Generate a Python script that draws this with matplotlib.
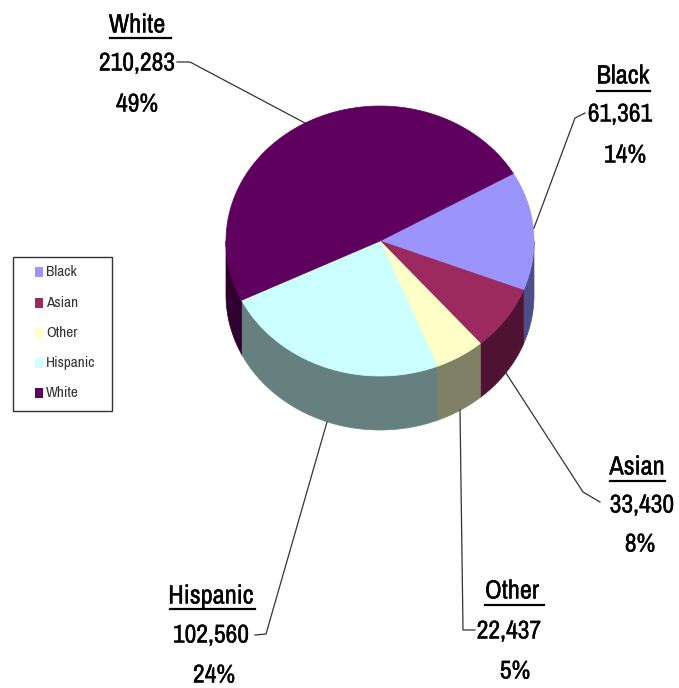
import numpy as np
import matplotlib
matplotlib.use('Agg')
import matplotlib.pyplot as plt
import matplotlib.patheffects as pe
from matplotlib.patches import Polygon, Rectangle

plt.rcParams['font.family'] = ['Archivo Narrow', 'Roboto Condensed', 'Liberation Sans', 'DejaVu Sans']

groups = ['Black', 'Asian', 'Other', 'Hispanic', 'White']
counts = [61361, 33430, 22437, 102560, 210283]
top_colors = ['#9a94fb', '#9c2a5e', '#ffffc8', '#ccffff', '#5f005f']
side_colors = ['#4d4d88', '#4f1233', '#808066', '#668080', '#300030']

# label anchors: heading, count, percent (x, y)
label_pos = {
    'Black': ((623, 76), (620, 114), (625, 155)),
    'Asian': ((637, 467), (642, 505), (640, 544)),
    'Other': ((512, 591), (509, 631), (515, 671)),
    'Hispanic': ((211, 596), (211, 635), (214, 675)),
    'White': ((137, 25), (137, 63), (137, 104)),
}
underlines = {
    'Black': (597, 650, 91),
    'Asian': (610, 665, 481),
    'Other': (485, 544, 605),
    'Hispanic': (170, 255, 609),
    'White': (110, 171, 38),
}
leaders = {
    'Black': ([534, 575, 585], [228, 118, 113]),
    'Asian': ([506, 583, 600], [373, 492, 502]),
    'Other': ([460, 463, 475], [410, 630, 630]),
    'Hispanic': ([327, 266, 255], [422, 634, 635]),
    'White': ([177, 190, 305], [62, 62, 123]),
}

cx, cy = 380, 241
rx, ry = 154, 135
depth = 54
start_angle = 30


def rim(a0, a1, n=80):
    a = np.radians(np.linspace(a0, a1, n))
    return cx + rx * np.cos(a), cy - ry * np.sin(a)


fig = plt.figure(figsize=(6.79, 6.88), dpi=100)
ax = fig.add_axes([0, 0, 1, 1])
ax.set_xlim(0, 679)
ax.set_ylim(688, 0)
ax.axis('off')

shares = np.array(counts) / sum(counts)
ends = start_angle - np.cumsum(shares) * 360
starts = np.r_[start_angle, ends[:-1]]

# side wall, only the front half of the rim shows
for a0, a1, c in zip(starts, ends, side_colors):
    s0, s1 = min(a0, 0), max(a1, -180)
    if s0 > s1:
        x, y = rim(s0, s1)
        pts = np.r_[np.c_[x, y], np.c_[x, y + depth][::-1]]
        ax.add_patch(Polygon(pts, closed=True, fc=c, ec=c, lw=0.5, zorder=1))

# top face
for a0, a1, c in zip(starts, ends, top_colors):
    x, y = rim(a0, a1)
    pts = np.r_[[[cx, cy]], np.c_[x, y]]
    ax.add_patch(Polygon(pts, closed=True, fc=c, ec=c, lw=0.5, zorder=2))

stroke = [pe.withStroke(linewidth=0.2, foreground='black')]
for name, n, share in zip(groups, counts, shares):
    head, num, pct = label_pos[name]
    ax.text(*head, name, fontsize=19, ha='center', va='center', color='black', path_effects=stroke)
    ax.text(*num, f'{n:,}', fontsize=18.5, ha='center', va='center', color='black', path_effects=stroke)
    ax.text(*pct, f'{share * 100:.0f}%', fontsize=18.5, ha='center', va='center', color='black', path_effects=stroke)
    x0, x1, y = underlines[name]
    ax.plot([x0, x1], [y, y], color='black', lw=1.6, zorder=3)
    lx, ly = leaders[name]
    ax.plot(lx, ly, color='#333333', lw=0.9, zorder=3)

# legend box
ax.add_patch(Rectangle((13, 257), 99, 154, fc='white', ec='#333333', lw=1, zorder=3))
rows = [272, 303, 333, 363, 393]
for name, c, y in zip(groups, top_colors, rows):
    ax.add_patch(Rectangle((35, y - 5), 8, 10, fc=c, ec='none', zorder=4))
    ax.text(46, y, name, fontsize=11, ha='left', va='center', color='#333333', zorder=4)

fig.savefig('out.png', dpi=100)
